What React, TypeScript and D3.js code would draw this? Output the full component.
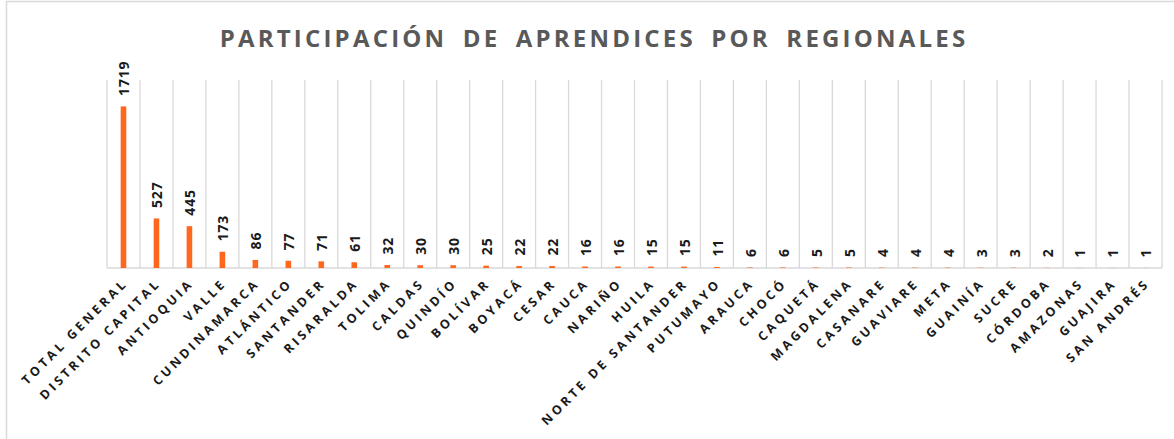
import React from "react";
import * as d3 from "d3";

const categories = [
  "TOTAL GENERAL", "DISTRITO CAPITAL", "ANTIOQUIA", "VALLE", "CUNDINAMARCA", "ATLÁNTICO",
  "SANTANDER", "RISARALDA", "TOLIMA", "CALDAS", "QUINDÍO", "BOLÍVAR", "BOYACÁ", "CESAR",
  "CAUCA", "NARIÑO", "HUILA", "NORTE DE SANTANDER", "PUTUMAYO", "ARAUCA", "CHOCÓ",
  "CAQUETÁ", "MAGDALENA", "CASANARE", "GUAVIARE", "META", "GUAINÍA", "SUCRE", "CÓRDOBA",
  "AMAZONAS", "GUAJIRA", "SAN ANDRÉS",
];
const values = [
  1719, 527, 445, 173, 86, 77, 71, 61, 32, 30, 30, 25, 22, 22, 16, 16, 15, 15, 11, 6, 6,
  5, 5, 4, 4, 4, 3, 3, 2, 1, 1, 1,
];
const yDomain = [0, 2000];
const title = "PARTICIPACIÓN DE APRENDICES POR REGIONALES";

const W = 1174;
const H = 439;
const plot = { left: 107, right: 1162, top: 80, bottom: 268 };
const FONT = "'Open Sans', 'DejaVu Sans', sans-serif";

export default function App() {
  const pad = 0.83;
  const x = d3
    .scaleBand<string>()
    .domain(categories)
    .range([plot.left, plot.right])
    .paddingInner(pad)
    .paddingOuter(pad / 2);
  const y = d3.scaleLinear().domain(yDomain).range([plot.bottom, plot.top]);
  const step = x.step();
  const bw = x.bandwidth();

  return (
    <svg
      width={W}
      height={H}
      style={{ position: "absolute", left: 0, top: 0, background: "#fff" }}
      fontFamily={FONT}
    >
      <rect x={0} y={0} width={W} height={H} fill="#fff" />
      <rect x={6.5} y={1.5} width={W + 50} height={H + 50} fill="none" stroke="#d9d9d9" strokeWidth={1.5} />
      <text
        x={594}
        y={47}
        textAnchor="middle"
        fontSize={24}
        fontWeight={700}
        fill="#595959"
        letterSpacing={3.2}
        wordSpacing={6}
      >
        {title}
      </text>
      {d3.range(categories.length + 1).map((i) => (
        <line
          key={"g" + i}
          x1={plot.left + i * step}
          x2={plot.left + i * step}
          y1={plot.top}
          y2={plot.bottom}
          stroke="#d9d9d9"
          strokeWidth={1.3}
        />
      ))}
      <line x1={plot.left} x2={plot.right} y1={plot.bottom} y2={plot.bottom} stroke="#d9d9d9" strokeWidth={1.5} />
      {categories.map((c, i) => (
        <rect
          key={"b" + c}
          x={x(c)!}
          y={y(values[i])}
          width={bw}
          height={plot.bottom - y(values[i])}
          fill="#ff671f"
        />
      ))}
      {categories.map((c, i) => {
        const cx = x(c)! + bw / 2 + 1;
        const ty = y(values[i]) - 10.5;
        return (
          <text
            key={"v" + c}
            transform={`translate(${cx},${ty}) rotate(-90)`}
            dy="0.35em"
            fontSize={14}
            fontWeight={700}
            fill="#1a1a1a"
            letterSpacing={0.8}
          >
            {values[i]}
          </text>
        );
      })}
      {categories.map((c) => {
        const cx = x(c)! + bw / 2 + 5;
        return (
          <text
            key={"c" + c}
            transform={`translate(${cx},${plot.bottom + 16}) rotate(-45)`}
            textAnchor="end"
            fontSize={12.5}
            fontWeight={700}
            fill="#1a1a1a"
            letterSpacing={3.3}
          >
            {c}
          </text>
        );
      })}
    </svg>
  );
}
